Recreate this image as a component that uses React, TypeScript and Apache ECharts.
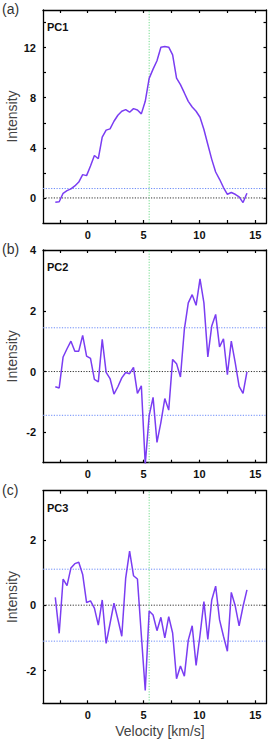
import React, { useEffect, useRef } from "react";
import * as echarts from "echarts";

const velocity = [
  -2.9, -2.55, -2.2, -1.85, -1.5, -1.15, -0.8, -0.45, -0.1, 0.25,
  0.6, 0.95, 1.3, 1.65, 2.0, 2.35, 2.7, 3.05, 3.4, 3.75,
  4.1, 4.45, 4.8, 5.15, 5.5, 5.85, 6.2, 6.55, 6.9, 7.25,
  7.6, 7.95, 8.3, 8.65, 9.0, 9.35, 9.7, 10.05, 10.4, 10.75,
  11.1, 11.45, 11.8, 12.15, 12.5, 12.85, 13.2, 13.55, 13.9, 14.25,
];

const pc1 = [
  -0.34, -0.3, 0.37, 0.58, 0.72, 0.96, 1.27, 1.86, 1.78, 2.55,
  3.39, 3.13, 4.85, 5.41, 5.51, 6.12, 6.6, 6.92, 7.05, 6.84,
  7.13, 7.02, 6.71, 7.71, 9.54, 10.28, 10.95, 12.03, 12.08, 12.03,
  11.42, 9.57, 9.04, 8.38, 7.71, 7.26, 6.92, 6.44, 5.46, 4.27,
  3.08, 2.07, 1.49, 0.83, 0.29, 0.43, 0.29, 0.08, -0.37, 0.37,
];

const pc2 = [
  -0.5, -0.54, 0.48, 0.75, 1.0, 0.67, 0.67, 1.19, 0.51, 0.43,
  -0.26, -0.34, 1.06, -0.03, -0.23, -0.74, -0.5, -0.21, -0.03, -0.07,
  0.14, -0.72, -0.47, -3.05, -1.45, -0.85, -2.33, -1.67, -0.89, -1.27,
  0.4, 0.26, -0.18, 1.39, 2.26, 2.53, 2.18, 3.05, 2.26, 0.48,
  1.5, 1.88, 0.81, 1.08, -0.1, 1.0, 0.29, -0.49, -0.72, -0.01,
];

const pc3 = [
  0.24, -0.86, 0.8, 0.6, 1.14, 1.27, 1.31, 0.94, 0.08, 0.13,
  -0.09, -0.61, 0.16, -1.17, -0.56, 0.06, -0.43, -0.95, 0.83, 1.65,
  0.9, 0.8, -0.92, -2.61, -0.18, -0.3, -0.78, -0.37, -1.0, -0.35,
  -0.85, -2.25, -1.86, -2.17, -1.07, -0.63, -1.84, -0.92, 0.11, -1.05,
  0.16, 0.58, -0.45, -0.95, -1.41, 0.39, -0.02, -0.63, -0.04, 0.47,
];

const panelNames = ["PC1", "PC2", "PC3"];
const panelLetters = ["(a)", "(b)", "(c)"];
const xTicks = [-2.5, 0, 2.5, 5, 7.5, 10, 12.5, 15];
const xLabels = [0, 5, 10, 15];
const xRange = [-4, 16];
const yRanges = [
  [-2, 15],
  [-3, 4],
  [-3, 3.5],
];
const yTicks = [
  [0, 2, 4, 6, 8, 10, 12, 14],
  [-2, 0, 2, 4],
  [-2, 0, 2],
];
const yLabels = [
  [0, 4, 8, 12],
  [-2, 0, 2, 4],
  [-2, 0, 2],
];
const thresholds = [[0.75], [1.44, -1.44], [1.1, -1.1]];
const systemicVelocity = 5.5;

const FONT = "Liberation Sans, Arial, sans-serif";
const LINE_COLOR = "#7a3df2";
const BLUE = "#6a8af8";
const GREEN = "#6fdc8a";

const gridTops = [10, 250, 490.7];
const gridHeights = [213, 212.7, 212.6];

export default function App() {
  const ref = useRef<HTMLDivElement>(null);
  useEffect(() => {
    if (!ref.current) return;
    const chart = echarts.init(ref.current, undefined, { renderer: "svg" });
    const series = [pc1, pc2, pc3];
    const grids = gridTops.map((t, i) => ({
      left: 43,
      right: 1.5,
      top: t,
      height: gridHeights[i],
    }));
    const axisLine = { show: true, onZero: false, lineStyle: { color: "#000", width: 1.3 } };
    const tickStyle = { color: "#000", width: 1.2 };
    const xAxes: any[] = [];
    const yAxes: any[] = [];
    for (let i = 0; i < 3; i++) {
      xAxes.push({
        type: "value",
        gridIndex: i,
        min: xRange[0],
        max: xRange[1],
        position: "bottom",
        axisLine,
        splitLine: { show: false },
        axisTick: { inside: true, length: 3, customValues: xTicks, lineStyle: tickStyle },
        axisLabel: {
          customValues: xLabels,
          fontSize: 11,
          fontWeight: "bold",
          color: "#111",
          fontFamily: FONT,
          margin: 6,
        },
      });
    }
    for (let i = 0; i < 3; i++) {
      xAxes.push({
        type: "value",
        gridIndex: i,
        min: xRange[0],
        max: xRange[1],
        position: "top",
        axisLine,
        splitLine: { show: false },
        axisTick: { inside: true, length: 3, customValues: xTicks, lineStyle: tickStyle },
        axisLabel: { show: false },
      });
    }
    for (let i = 0; i < 3; i++) {
      yAxes.push({
        type: "value",
        gridIndex: i,
        min: yRanges[i][0],
        max: yRanges[i][1],
        position: "left",
        axisLine,
        splitLine: { show: false },
        axisTick: { inside: true, length: 3, customValues: yTicks[i], lineStyle: tickStyle },
        axisLabel: {
          customValues: yLabels[i],
          fontSize: 11,
          fontWeight: "bold",
          color: "#111",
          fontFamily: FONT,
          margin: 7,
        },
      });
    }
    for (let i = 0; i < 3; i++) {
      yAxes.push({
        type: "value",
        gridIndex: i,
        min: yRanges[i][0],
        max: yRanges[i][1],
        position: "right",
        axisLine,
        splitLine: { show: false },
        axisTick: { inside: true, length: 3, customValues: yTicks[i], lineStyle: tickStyle },
        axisLabel: { show: false },
      });
    }

    const seriesOpts: any[] = [];
    const refLine = (i: number, pts: number[][], color: string) => ({
      type: "line",
      xAxisIndex: i,
      yAxisIndex: i,
      data: pts,
      symbol: "none",
      silent: true,
      z: 1,
      lineStyle: { color, width: 1, type: [1.2, 1.5] },
    });
    series.forEach((vals, i) => {
      seriesOpts.push(refLine(i, [[xRange[0], 0], [xRange[1], 0]], "#333"));
      thresholds[i].forEach((t) =>
        seriesOpts.push(refLine(i, [[xRange[0], t], [xRange[1], t]], BLUE))
      );
      seriesOpts.push(
        refLine(i, [[systemicVelocity, yRanges[i][0]], [systemicVelocity, yRanges[i][1]]], GREEN)
      );
      seriesOpts.push({
        type: "line",
        xAxisIndex: i,
        yAxisIndex: i,
        data: velocity.map((v, j) => [v, vals[j]]),
        symbol: "none",
        lineStyle: { color: LINE_COLOR, width: 1.5 },
        z: 3,
      });
    });

    const graphics: any[] = [];
    for (let i = 0; i < 3; i++) {
      const top = gridTops[i];
      graphics.push({
        type: "text",
        left: 2,
        top: top - 8,
        style: { text: panelLetters[i], font: `14px ${FONT}`, fill: "#333" },
      });
      graphics.push({
        type: "text",
        x: 47,
        y: top + 17,
        style: {
          text: panelNames[i],
          font: `bold 11px ${FONT}`,
          fill: "#111",
          verticalAlign: "middle",
        },
      });
      graphics.push({
        type: "text",
        x: 12,
        y: top + gridHeights[i] / 2,
        rotation: Math.PI / 2,
        style: {
          text: "Intensity",
          font: `14px ${FONT}`,
          fill: "#444",
          align: "center",
          verticalAlign: "middle",
        },
      });
    }
    graphics.push({
      type: "text",
      x: 160,
      y: 731,
      style: {
        text: "Velocity [km/s]",
        font: `14px ${FONT}`,
        fill: "#444",
        align: "center",
        verticalAlign: "middle",
      },
    });

    chart.setOption({
      animation: false,
      backgroundColor: "#fff",
      grid: grids,
      xAxis: xAxes,
      yAxis: yAxes,
      series: seriesOpts,
      graphic: graphics,
    });
    return () => chart.dispose();
  }, []);
  return (
    <div
      ref={ref}
      style={{ position: "absolute", left: 0, top: 0, width: 268, height: 740 }}
    />
  );
}
